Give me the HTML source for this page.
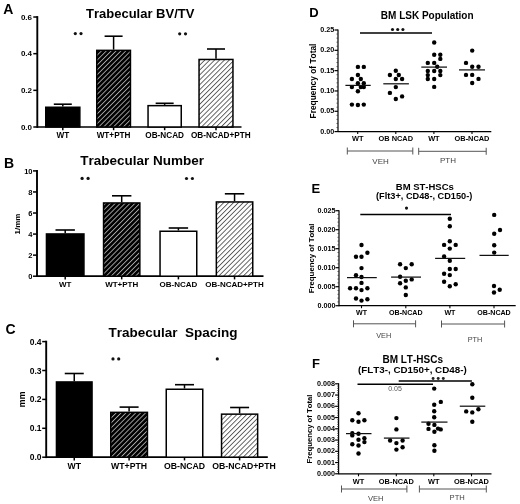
<!DOCTYPE html>
<html><head><meta charset="utf-8"><title>Figure</title>
<style>
html,body{margin:0;padding:0;background:#fff;}
svg{display:block;filter:blur(0.3px);font-family:"Liberation Sans", sans-serif;font-kerning:none;}
</style></head>
<body>
<svg width="520" height="504" viewBox="0 0 520 504">
<defs>
<pattern id="hD" patternUnits="userSpaceOnUse" width="3.46" height="3.46" patternTransform="rotate(45)">
<rect width="3.46" height="3.46" fill="#000"/><rect x="0" y="0" width="0.9" height="3.46" fill="#aaa"/>
</pattern>
<pattern id="hL" patternUnits="userSpaceOnUse" width="3.46" height="3.46" patternTransform="rotate(45)">
<rect width="3.46" height="3.46" fill="#fff"/><rect x="0" y="0" width="0.9" height="3.46" fill="#555"/>
</pattern>
</defs>
<rect width="520" height="504" fill="#fff"/>
<text x="3.3" y="14.2" font-size="14" text-anchor="start" font-weight="bold" fill="#000">A</text>
<text x="140.2" y="18.2" font-size="13" text-anchor="middle" font-weight="bold" fill="#000">Trabecular BV/TV</text>
<line x1="37.3" y1="16.1" x2="37.3" y2="127.9" stroke="#000" stroke-width="1.9"/>
<line x1="37.3" y1="127" x2="241.5" y2="127" stroke="#000" stroke-width="1.7"/>
<line x1="33.3" y1="17.019999999999996" x2="37.3" y2="17.019999999999996" stroke="#000" stroke-width="1.5"/>
<text x="32" y="19.699999999999996" font-size="8" text-anchor="end" font-weight="bold" fill="#000">0.6</text>
<line x1="33.3" y1="53.67999999999999" x2="37.3" y2="53.67999999999999" stroke="#000" stroke-width="1.5"/>
<text x="32" y="56.35999999999999" font-size="8" text-anchor="end" font-weight="bold" fill="#000">0.4</text>
<line x1="33.3" y1="90.34" x2="37.3" y2="90.34" stroke="#000" stroke-width="1.5"/>
<text x="32" y="93.02" font-size="8" text-anchor="end" font-weight="bold" fill="#000">0.2</text>
<line x1="33.3" y1="127.0" x2="37.3" y2="127.0" stroke="#000" stroke-width="1.5"/>
<text x="32" y="129.68" font-size="8" text-anchor="end" font-weight="bold" fill="#000">0.0</text>
<line x1="62.8" y1="104.2" x2="62.8" y2="106.5" stroke="#000" stroke-width="1.5"/>
<line x1="53.8" y1="104.2" x2="71.8" y2="104.2" stroke="#000" stroke-width="1.6"/>
<rect x="45.75" y="107.25" width="34.099999999999994" height="19.75" fill="#000" stroke="#000" stroke-width="1.5"/>
<line x1="62.8" y1="127" x2="62.8" y2="130.2" stroke="#000" stroke-width="1.5"/>
<text x="62.8" y="138.4" font-size="8.2" text-anchor="middle" font-weight="bold" fill="#000">WT</text>
<line x1="113.6" y1="36.2" x2="113.6" y2="49.6" stroke="#000" stroke-width="1.5"/>
<line x1="104.6" y1="36.2" x2="122.6" y2="36.2" stroke="#000" stroke-width="1.6"/>
<rect x="96.75" y="50.35" width="33.69999999999999" height="76.65" fill="url(#hD)" stroke="#000" stroke-width="1.5"/>
<line x1="113.6" y1="127" x2="113.6" y2="130.2" stroke="#000" stroke-width="1.5"/>
<text x="113.6" y="138.4" font-size="8.2" text-anchor="middle" font-weight="bold" fill="#000">WT+PTH</text>
<line x1="164.65" y1="103.3" x2="164.65" y2="104.9" stroke="#000" stroke-width="1.5"/>
<line x1="155.65" y1="103.3" x2="173.65" y2="103.3" stroke="#000" stroke-width="1.6"/>
<rect x="148.05" y="105.65" width="33.19999999999999" height="21.349999999999994" fill="#fff" stroke="#000" stroke-width="1.5"/>
<line x1="164.65" y1="127" x2="164.65" y2="130.2" stroke="#000" stroke-width="1.5"/>
<text x="164.65" y="138.4" font-size="8.2" text-anchor="middle" font-weight="bold" fill="#000">OB-NCAD</text>
<line x1="216.0" y1="49" x2="216.0" y2="58.7" stroke="#000" stroke-width="1.5"/>
<line x1="207.0" y1="49" x2="225.0" y2="49" stroke="#000" stroke-width="1.6"/>
<rect x="199.05" y="59.45" width="33.89999999999998" height="67.55" fill="url(#hL)" stroke="#000" stroke-width="1.5"/>
<line x1="216.0" y1="127" x2="216.0" y2="130.2" stroke="#000" stroke-width="1.5"/>
<text x="220.8" y="138.4" font-size="8.2" text-anchor="middle" font-weight="bold" fill="#000">OB-NCAD+PTH</text>
<circle cx="75.3" cy="33.6" r="1.6" fill="#111"/>
<circle cx="81" cy="33.6" r="1.6" fill="#111"/>
<circle cx="179.7" cy="33.8" r="1.6" fill="#111"/>
<circle cx="185.5" cy="33.8" r="1.6" fill="#111"/>
<text x="4" y="167.5" font-size="14" text-anchor="start" font-weight="bold" fill="#000">B</text>
<text x="142.2" y="165.2" font-size="13.5" text-anchor="middle" font-weight="bold" fill="#000">Trabecular Number</text>
<line x1="37" y1="170.0" x2="37" y2="277.09999999999997" stroke="#000" stroke-width="1.9"/>
<line x1="37" y1="276.2" x2="263.5" y2="276.2" stroke="#000" stroke-width="1.7"/>
<line x1="33" y1="170.89999999999998" x2="37" y2="170.89999999999998" stroke="#000" stroke-width="1.5"/>
<text x="32.5" y="173.59999999999997" font-size="7.5" text-anchor="end" font-weight="bold" fill="#000">10</text>
<line x1="33" y1="191.95999999999998" x2="37" y2="191.95999999999998" stroke="#000" stroke-width="1.5"/>
<text x="32.5" y="194.65999999999997" font-size="7.5" text-anchor="end" font-weight="bold" fill="#000">8</text>
<line x1="33" y1="213.01999999999998" x2="37" y2="213.01999999999998" stroke="#000" stroke-width="1.5"/>
<text x="32.5" y="215.71999999999997" font-size="7.5" text-anchor="end" font-weight="bold" fill="#000">6</text>
<line x1="33" y1="234.07999999999998" x2="37" y2="234.07999999999998" stroke="#000" stroke-width="1.5"/>
<text x="32.5" y="236.77999999999997" font-size="7.5" text-anchor="end" font-weight="bold" fill="#000">4</text>
<line x1="33" y1="255.14" x2="37" y2="255.14" stroke="#000" stroke-width="1.5"/>
<text x="32.5" y="257.84" font-size="7.5" text-anchor="end" font-weight="bold" fill="#000">2</text>
<line x1="33" y1="276.2" x2="37" y2="276.2" stroke="#000" stroke-width="1.5"/>
<text x="32.5" y="278.9" font-size="7.5" text-anchor="end" font-weight="bold" fill="#000">0</text>
<line x1="65.2" y1="230" x2="65.2" y2="233.2" stroke="#000" stroke-width="1.5"/>
<line x1="55.5" y1="230" x2="74.9" y2="230" stroke="#000" stroke-width="1.6"/>
<rect x="46.45" y="233.95" width="37.5" height="42.25" fill="#000" stroke="#000" stroke-width="1.5"/>
<line x1="65.2" y1="276.2" x2="65.2" y2="279.4" stroke="#000" stroke-width="1.5"/>
<text x="65.2" y="287.3" font-size="8" text-anchor="middle" font-weight="bold" fill="#000">WT</text>
<line x1="121.69999999999999" y1="195.8" x2="121.69999999999999" y2="202.2" stroke="#000" stroke-width="1.5"/>
<line x1="111.99999999999999" y1="195.8" x2="131.39999999999998" y2="195.8" stroke="#000" stroke-width="1.6"/>
<rect x="103.55" y="202.95" width="36.3" height="73.25" fill="url(#hD)" stroke="#000" stroke-width="1.5"/>
<line x1="121.69999999999999" y1="276.2" x2="121.69999999999999" y2="279.4" stroke="#000" stroke-width="1.5"/>
<text x="121.69999999999999" y="287.3" font-size="8" text-anchor="middle" font-weight="bold" fill="#000">WT+PTH</text>
<line x1="178.4" y1="228" x2="178.4" y2="230.5" stroke="#000" stroke-width="1.5"/>
<line x1="168.70000000000002" y1="228" x2="188.1" y2="228" stroke="#000" stroke-width="1.6"/>
<rect x="160.05" y="231.25" width="36.69999999999999" height="44.94999999999999" fill="#fff" stroke="#000" stroke-width="1.5"/>
<line x1="178.4" y1="276.2" x2="178.4" y2="279.4" stroke="#000" stroke-width="1.5"/>
<text x="178.4" y="287.3" font-size="8" text-anchor="middle" font-weight="bold" fill="#000">OB-NCAD</text>
<line x1="234.55" y1="193.8" x2="234.55" y2="201.2" stroke="#000" stroke-width="1.5"/>
<line x1="224.85000000000002" y1="193.8" x2="244.25" y2="193.8" stroke="#000" stroke-width="1.6"/>
<rect x="216.35" y="201.95" width="36.400000000000006" height="74.25" fill="url(#hL)" stroke="#000" stroke-width="1.5"/>
<line x1="234.55" y1="276.2" x2="234.55" y2="279.4" stroke="#000" stroke-width="1.5"/>
<text x="234.55" y="287.3" font-size="8" text-anchor="middle" font-weight="bold" fill="#000">OB-NCAD+PTH</text>
<circle cx="82.1" cy="178.4" r="1.6" fill="#111"/>
<circle cx="88.1" cy="178.4" r="1.6" fill="#111"/>
<circle cx="186.5" cy="178.5" r="1.6" fill="#111"/>
<circle cx="192.4" cy="178.5" r="1.6" fill="#111"/>
<text x="19.6" y="224" font-size="8" text-anchor="middle" font-weight="bold" fill="#000" transform="rotate(-90 19.6 224)">1/mm</text>
<text x="5.5" y="334.2" font-size="14" text-anchor="start" font-weight="bold" fill="#000">C</text>
<text x="173" y="337.3" font-size="13.5" text-anchor="middle" font-weight="bold" fill="#000">Trabecular&#160; Spacing</text>
<line x1="46.2" y1="340.70000000000005" x2="46.2" y2="458.09999999999997" stroke="#000" stroke-width="1.9"/>
<line x1="46.2" y1="457.2" x2="267.8" y2="457.2" stroke="#000" stroke-width="1.7"/>
<line x1="42.2" y1="341.59999999999997" x2="46.2" y2="341.59999999999997" stroke="#000" stroke-width="1.5"/>
<text x="41.5" y="344.65999999999997" font-size="8.5" text-anchor="end" font-weight="bold" fill="#000">0.4</text>
<line x1="42.2" y1="370.5" x2="46.2" y2="370.5" stroke="#000" stroke-width="1.5"/>
<text x="41.5" y="373.56" font-size="8.5" text-anchor="end" font-weight="bold" fill="#000">0.3</text>
<line x1="42.2" y1="399.4" x2="46.2" y2="399.4" stroke="#000" stroke-width="1.5"/>
<text x="41.5" y="402.46" font-size="8.5" text-anchor="end" font-weight="bold" fill="#000">0.2</text>
<line x1="42.2" y1="428.3" x2="46.2" y2="428.3" stroke="#000" stroke-width="1.5"/>
<text x="41.5" y="431.36" font-size="8.5" text-anchor="end" font-weight="bold" fill="#000">0.1</text>
<line x1="42.2" y1="457.2" x2="46.2" y2="457.2" stroke="#000" stroke-width="1.5"/>
<text x="41.5" y="460.26" font-size="8.5" text-anchor="end" font-weight="bold" fill="#000">0.0</text>
<line x1="74.25" y1="373.5" x2="74.25" y2="381.2" stroke="#000" stroke-width="1.5"/>
<line x1="64.75" y1="373.5" x2="83.75" y2="373.5" stroke="#000" stroke-width="1.6"/>
<rect x="56.45" y="381.95" width="35.599999999999994" height="75.25" fill="#000" stroke="#000" stroke-width="1.5"/>
<line x1="74.25" y1="457.2" x2="74.25" y2="460.4" stroke="#000" stroke-width="1.5"/>
<text x="74.25" y="468.8" font-size="8.7" text-anchor="middle" font-weight="bold" fill="#000">WT</text>
<line x1="129.1" y1="407.1" x2="129.1" y2="411.6" stroke="#000" stroke-width="1.5"/>
<line x1="119.6" y1="407.1" x2="138.6" y2="407.1" stroke="#000" stroke-width="1.6"/>
<rect x="110.75" y="412.35" width="36.69999999999999" height="44.849999999999966" fill="url(#hD)" stroke="#000" stroke-width="1.5"/>
<line x1="129.1" y1="457.2" x2="129.1" y2="460.4" stroke="#000" stroke-width="1.5"/>
<text x="129.1" y="468.8" font-size="8.7" text-anchor="middle" font-weight="bold" fill="#000">WT+PTH</text>
<line x1="184.5" y1="384.7" x2="184.5" y2="388.5" stroke="#000" stroke-width="1.5"/>
<line x1="175.0" y1="384.7" x2="194.0" y2="384.7" stroke="#000" stroke-width="1.6"/>
<rect x="166.25" y="389.25" width="36.5" height="67.94999999999999" fill="#fff" stroke="#000" stroke-width="1.5"/>
<line x1="184.5" y1="457.2" x2="184.5" y2="460.4" stroke="#000" stroke-width="1.5"/>
<text x="184.5" y="468.8" font-size="8.7" text-anchor="middle" font-weight="bold" fill="#000">OB-NCAD</text>
<line x1="239.6" y1="407.5" x2="239.6" y2="413.4" stroke="#000" stroke-width="1.5"/>
<line x1="230.1" y1="407.5" x2="249.1" y2="407.5" stroke="#000" stroke-width="1.6"/>
<rect x="221.55" y="414.15" width="36.099999999999966" height="43.05000000000001" fill="url(#hL)" stroke="#000" stroke-width="1.5"/>
<line x1="239.6" y1="457.2" x2="239.6" y2="460.4" stroke="#000" stroke-width="1.5"/>
<text x="244.0" y="468.8" font-size="8.7" text-anchor="middle" font-weight="bold" fill="#000">OB-NCAD+PTH</text>
<circle cx="113" cy="358.9" r="1.6" fill="#111"/>
<circle cx="118.7" cy="358.9" r="1.6" fill="#111"/>
<circle cx="217.3" cy="358.9" r="1.6" fill="#111"/>
<text x="25.2" y="399.3" font-size="8.8" text-anchor="middle" font-weight="bold" fill="#000" transform="rotate(-90 25.2 399.3)">mm</text>
<text x="309.3" y="17.3" font-size="13" text-anchor="start" font-weight="bold" fill="#000">D</text>
<text x="427.2" y="18.5" font-size="10" text-anchor="middle" font-weight="bold" fill="#000">BM LSK Population</text>
<line x1="338" y1="29.5" x2="338" y2="132.1" stroke="#000" stroke-width="1.2"/>
<line x1="338" y1="131.6" x2="491.3" y2="131.6" stroke="#000" stroke-width="1.3"/>
<line x1="336.5" y1="127.536" x2="338" y2="127.536" stroke="#333" stroke-width="0.8"/>
<line x1="336.5" y1="123.472" x2="338" y2="123.472" stroke="#333" stroke-width="0.8"/>
<line x1="336.5" y1="119.408" x2="338" y2="119.408" stroke="#333" stroke-width="0.8"/>
<line x1="336.5" y1="115.344" x2="338" y2="115.344" stroke="#333" stroke-width="0.8"/>
<line x1="336.5" y1="107.216" x2="338" y2="107.216" stroke="#333" stroke-width="0.8"/>
<line x1="336.5" y1="103.15199999999999" x2="338" y2="103.15199999999999" stroke="#333" stroke-width="0.8"/>
<line x1="336.5" y1="99.088" x2="338" y2="99.088" stroke="#333" stroke-width="0.8"/>
<line x1="336.5" y1="95.024" x2="338" y2="95.024" stroke="#333" stroke-width="0.8"/>
<line x1="336.5" y1="86.89599999999999" x2="338" y2="86.89599999999999" stroke="#333" stroke-width="0.8"/>
<line x1="336.5" y1="82.832" x2="338" y2="82.832" stroke="#333" stroke-width="0.8"/>
<line x1="336.5" y1="78.768" x2="338" y2="78.768" stroke="#333" stroke-width="0.8"/>
<line x1="336.5" y1="74.704" x2="338" y2="74.704" stroke="#333" stroke-width="0.8"/>
<line x1="336.5" y1="66.576" x2="338" y2="66.576" stroke="#333" stroke-width="0.8"/>
<line x1="336.5" y1="62.511999999999986" x2="338" y2="62.511999999999986" stroke="#333" stroke-width="0.8"/>
<line x1="336.5" y1="58.44800000000001" x2="338" y2="58.44800000000001" stroke="#333" stroke-width="0.8"/>
<line x1="336.5" y1="54.384" x2="338" y2="54.384" stroke="#333" stroke-width="0.8"/>
<line x1="336.5" y1="46.256" x2="338" y2="46.256" stroke="#333" stroke-width="0.8"/>
<line x1="336.5" y1="42.19199999999999" x2="338" y2="42.19199999999999" stroke="#333" stroke-width="0.8"/>
<line x1="336.5" y1="38.128" x2="338" y2="38.128" stroke="#333" stroke-width="0.8"/>
<line x1="336.5" y1="34.06400000000001" x2="338" y2="34.06400000000001" stroke="#333" stroke-width="0.8"/>
<line x1="334.5" y1="30.0" x2="338" y2="30.0" stroke="#000" stroke-width="1.2"/>
<text x="334.2" y="32.16" font-size="7.2" text-anchor="end" font-weight="bold" fill="#000">0.25</text>
<line x1="334.5" y1="50.31999999999999" x2="338" y2="50.31999999999999" stroke="#000" stroke-width="1.2"/>
<text x="334.2" y="52.47999999999999" font-size="7.2" text-anchor="end" font-weight="bold" fill="#000">0.20</text>
<line x1="334.5" y1="70.64" x2="338" y2="70.64" stroke="#000" stroke-width="1.2"/>
<text x="334.2" y="72.8" font-size="7.2" text-anchor="end" font-weight="bold" fill="#000">0.15</text>
<line x1="334.5" y1="90.96" x2="338" y2="90.96" stroke="#000" stroke-width="1.2"/>
<text x="334.2" y="93.11999999999999" font-size="7.2" text-anchor="end" font-weight="bold" fill="#000">0.10</text>
<line x1="334.5" y1="111.28" x2="338" y2="111.28" stroke="#000" stroke-width="1.2"/>
<text x="334.2" y="113.44" font-size="7.2" text-anchor="end" font-weight="bold" fill="#000">0.05</text>
<line x1="334.5" y1="131.6" x2="338" y2="131.6" stroke="#000" stroke-width="1.2"/>
<text x="334.2" y="133.76" font-size="7.2" text-anchor="end" font-weight="bold" fill="#000">0.00</text>
<line x1="357.7" y1="131.6" x2="357.7" y2="134.1" stroke="#000" stroke-width="1.1"/>
<text x="357.7" y="141.4" font-size="7.4" text-anchor="middle" font-weight="bold" fill="#000">WT</text>
<line x1="395.8" y1="131.6" x2="395.8" y2="134.1" stroke="#000" stroke-width="1.1"/>
<text x="395.8" y="141.4" font-size="7.4" text-anchor="middle" font-weight="bold" fill="#000">OB NCAD</text>
<line x1="433.9" y1="131.6" x2="433.9" y2="134.1" stroke="#000" stroke-width="1.1"/>
<text x="433.9" y="141.4" font-size="7.4" text-anchor="middle" font-weight="bold" fill="#000">WT</text>
<line x1="472" y1="131.6" x2="472" y2="134.1" stroke="#000" stroke-width="1.1"/>
<text x="472" y="141.4" font-size="7.4" text-anchor="middle" font-weight="bold" fill="#000">OB-NCAD</text>
<line x1="347.3" y1="151" x2="412.8" y2="151" stroke="#555" stroke-width="1.0"/>
<line x1="347.3" y1="147.5" x2="347.3" y2="154.5" stroke="#555" stroke-width="1.0"/>
<line x1="412.8" y1="147.5" x2="412.8" y2="154.5" stroke="#555" stroke-width="1.0"/>
<text x="380.6" y="164" font-size="8" text-anchor="middle" font-weight="normal" fill="#444">VEH</text>
<line x1="418.7" y1="151.3" x2="486.2" y2="151.3" stroke="#555" stroke-width="1.0"/>
<line x1="418.7" y1="147.8" x2="418.7" y2="154.8" stroke="#555" stroke-width="1.0"/>
<line x1="486.2" y1="147.8" x2="486.2" y2="154.8" stroke="#555" stroke-width="1.0"/>
<text x="448" y="163.4" font-size="8" text-anchor="middle" font-weight="normal" fill="#444">PTH</text>
<circle cx="357.9" cy="66.9" r="2.2" fill="#000"/>
<circle cx="363.8" cy="66.9" r="2.2" fill="#000"/>
<circle cx="357.9" cy="75" r="2.2" fill="#000"/>
<circle cx="351.9" cy="79" r="2.2" fill="#000"/>
<circle cx="360.8" cy="79" r="2.2" fill="#000"/>
<circle cx="357.9" cy="83.2" r="2.2" fill="#000"/>
<circle cx="363.8" cy="83.2" r="2.2" fill="#000"/>
<circle cx="351.9" cy="87.1" r="2.2" fill="#000"/>
<circle cx="360.8" cy="87.1" r="2.2" fill="#000"/>
<circle cx="363.8" cy="87.1" r="2.2" fill="#000"/>
<circle cx="357.9" cy="91.3" r="2.2" fill="#000"/>
<circle cx="351.9" cy="104.6" r="2.2" fill="#000"/>
<circle cx="357.9" cy="105" r="2.2" fill="#000"/>
<circle cx="363.8" cy="104.6" r="2.2" fill="#000"/>
<circle cx="395.8" cy="70.7" r="2.2" fill="#000"/>
<circle cx="389.9" cy="75" r="2.2" fill="#000"/>
<circle cx="398.8" cy="75" r="2.2" fill="#000"/>
<circle cx="395.8" cy="79" r="2.2" fill="#000"/>
<circle cx="402.1" cy="79" r="2.2" fill="#000"/>
<circle cx="395.8" cy="87.1" r="2.2" fill="#000"/>
<circle cx="389.9" cy="92.9" r="2.2" fill="#000"/>
<circle cx="402.1" cy="96.4" r="2.2" fill="#000"/>
<circle cx="395.8" cy="99" r="2.2" fill="#000"/>
<circle cx="434.2" cy="42.5" r="2.2" fill="#000"/>
<circle cx="434.2" cy="54.7" r="2.2" fill="#000"/>
<circle cx="440.3" cy="54.7" r="2.2" fill="#000"/>
<circle cx="440.3" cy="58.9" r="2.2" fill="#000"/>
<circle cx="427.8" cy="62.9" r="2.2" fill="#000"/>
<circle cx="434.2" cy="62.9" r="2.2" fill="#000"/>
<circle cx="437.2" cy="66.8" r="2.2" fill="#000"/>
<circle cx="427.8" cy="71" r="2.2" fill="#000"/>
<circle cx="434.2" cy="71" r="2.2" fill="#000"/>
<circle cx="440.3" cy="71" r="2.2" fill="#000"/>
<circle cx="427.8" cy="75.1" r="2.2" fill="#000"/>
<circle cx="440.3" cy="75.1" r="2.2" fill="#000"/>
<circle cx="427.8" cy="79" r="2.2" fill="#000"/>
<circle cx="434.2" cy="79" r="2.2" fill="#000"/>
<circle cx="434.2" cy="86.9" r="2.2" fill="#000"/>
<circle cx="472.2" cy="50.6" r="2.2" fill="#000"/>
<circle cx="466" cy="62.9" r="2.2" fill="#000"/>
<circle cx="472.2" cy="66.8" r="2.2" fill="#000"/>
<circle cx="478.5" cy="66.8" r="2.2" fill="#000"/>
<circle cx="466" cy="74.9" r="2.2" fill="#000"/>
<circle cx="472.2" cy="74.9" r="2.2" fill="#000"/>
<circle cx="478.5" cy="78.9" r="2.2" fill="#000"/>
<circle cx="472.2" cy="83" r="2.2" fill="#000"/>
<line x1="345.4" y1="85.4" x2="370.7" y2="85.4" stroke="#111" stroke-width="1.25"/>
<line x1="383.3" y1="83.8" x2="408.9" y2="83.8" stroke="#111" stroke-width="1.25"/>
<line x1="421.3" y1="67.1" x2="447" y2="67.1" stroke="#111" stroke-width="1.25"/>
<line x1="459" y1="69.9" x2="485" y2="69.9" stroke="#111" stroke-width="1.25"/>
<text x="315.6" y="81" font-size="8.4" text-anchor="middle" font-weight="bold" fill="#000" transform="rotate(-90 315.6 81)">Frequency of Total</text>
<line x1="360" y1="33" x2="432" y2="33" stroke="#000" stroke-width="1.6"/>
<circle cx="392.5" cy="29.5" r="1.55" fill="#111"/>
<circle cx="397.7" cy="29.5" r="1.55" fill="#111"/>
<circle cx="402.9" cy="29.5" r="1.55" fill="#111"/>
<text x="311.4" y="193" font-size="13" text-anchor="start" font-weight="bold" fill="#000">E</text>
<text x="424.8" y="189.5" font-size="9.5" text-anchor="middle" font-weight="bold" fill="#000">BM ST-HSCs</text>
<text x="424.2" y="199.2" font-size="9.2" text-anchor="middle" font-weight="bold" fill="#000">(Flt3+, CD48-, CD150-)</text>
<line x1="339" y1="210.3" x2="339" y2="306.2" stroke="#000" stroke-width="1.2"/>
<line x1="339" y1="305.7" x2="515.7" y2="305.7" stroke="#000" stroke-width="1.3"/>
<line x1="337.5" y1="301.9" x2="339" y2="301.9" stroke="#333" stroke-width="0.8"/>
<line x1="337.5" y1="298.09999999999997" x2="339" y2="298.09999999999997" stroke="#333" stroke-width="0.8"/>
<line x1="337.5" y1="294.3" x2="339" y2="294.3" stroke="#333" stroke-width="0.8"/>
<line x1="337.5" y1="290.5" x2="339" y2="290.5" stroke="#333" stroke-width="0.8"/>
<line x1="337.5" y1="282.9" x2="339" y2="282.9" stroke="#333" stroke-width="0.8"/>
<line x1="337.5" y1="279.09999999999997" x2="339" y2="279.09999999999997" stroke="#333" stroke-width="0.8"/>
<line x1="337.5" y1="275.3" x2="339" y2="275.3" stroke="#333" stroke-width="0.8"/>
<line x1="337.5" y1="271.5" x2="339" y2="271.5" stroke="#333" stroke-width="0.8"/>
<line x1="337.5" y1="263.9" x2="339" y2="263.9" stroke="#333" stroke-width="0.8"/>
<line x1="337.5" y1="260.09999999999997" x2="339" y2="260.09999999999997" stroke="#333" stroke-width="0.8"/>
<line x1="337.5" y1="256.29999999999995" x2="339" y2="256.29999999999995" stroke="#333" stroke-width="0.8"/>
<line x1="337.5" y1="252.5" x2="339" y2="252.5" stroke="#333" stroke-width="0.8"/>
<line x1="337.5" y1="244.89999999999998" x2="339" y2="244.89999999999998" stroke="#333" stroke-width="0.8"/>
<line x1="337.5" y1="241.09999999999997" x2="339" y2="241.09999999999997" stroke="#333" stroke-width="0.8"/>
<line x1="337.5" y1="237.29999999999998" x2="339" y2="237.29999999999998" stroke="#333" stroke-width="0.8"/>
<line x1="337.5" y1="233.5" x2="339" y2="233.5" stroke="#333" stroke-width="0.8"/>
<line x1="337.5" y1="225.89999999999998" x2="339" y2="225.89999999999998" stroke="#333" stroke-width="0.8"/>
<line x1="337.5" y1="222.1" x2="339" y2="222.1" stroke="#333" stroke-width="0.8"/>
<line x1="337.5" y1="218.3" x2="339" y2="218.3" stroke="#333" stroke-width="0.8"/>
<line x1="337.5" y1="214.5" x2="339" y2="214.5" stroke="#333" stroke-width="0.8"/>
<line x1="335.5" y1="210.7" x2="339" y2="210.7" stroke="#000" stroke-width="1.2"/>
<text x="335.4" y="212.85999999999999" font-size="7.2" text-anchor="end" font-weight="bold" fill="#000">0.025</text>
<line x1="335.5" y1="229.7" x2="339" y2="229.7" stroke="#000" stroke-width="1.2"/>
<text x="335.4" y="231.85999999999999" font-size="7.2" text-anchor="end" font-weight="bold" fill="#000">0.020</text>
<line x1="335.5" y1="248.7" x2="339" y2="248.7" stroke="#000" stroke-width="1.2"/>
<text x="335.4" y="250.85999999999999" font-size="7.2" text-anchor="end" font-weight="bold" fill="#000">0.015</text>
<line x1="335.5" y1="267.7" x2="339" y2="267.7" stroke="#000" stroke-width="1.2"/>
<text x="335.4" y="269.86" font-size="7.2" text-anchor="end" font-weight="bold" fill="#000">0.010</text>
<line x1="335.5" y1="286.7" x2="339" y2="286.7" stroke="#000" stroke-width="1.2"/>
<text x="335.4" y="288.86" font-size="7.2" text-anchor="end" font-weight="bold" fill="#000">0.005</text>
<line x1="335.5" y1="305.7" x2="339" y2="305.7" stroke="#000" stroke-width="1.2"/>
<text x="335.4" y="307.86" font-size="7.2" text-anchor="end" font-weight="bold" fill="#000">0.000</text>
<line x1="361.5" y1="305.7" x2="361.5" y2="308.2" stroke="#000" stroke-width="1.1"/>
<text x="361.5" y="315.3" font-size="7.1" text-anchor="middle" font-weight="bold" fill="#000">WT</text>
<line x1="405.8" y1="305.7" x2="405.8" y2="308.2" stroke="#000" stroke-width="1.1"/>
<text x="405.8" y="315.3" font-size="7.1" text-anchor="middle" font-weight="bold" fill="#000">OB-NCAD</text>
<line x1="449.9" y1="305.7" x2="449.9" y2="308.2" stroke="#000" stroke-width="1.1"/>
<text x="449.9" y="315.3" font-size="7.1" text-anchor="middle" font-weight="bold" fill="#000">WT</text>
<line x1="494" y1="305.7" x2="494" y2="308.2" stroke="#000" stroke-width="1.1"/>
<text x="494" y="315.3" font-size="7.1" text-anchor="middle" font-weight="bold" fill="#000">OB-NCAD</text>
<line x1="353.5" y1="323.8" x2="415.6" y2="323.8" stroke="#555" stroke-width="1.0"/>
<line x1="353.5" y1="320.3" x2="353.5" y2="327.3" stroke="#555" stroke-width="1.0"/>
<line x1="415.6" y1="320.3" x2="415.6" y2="327.3" stroke="#555" stroke-width="1.0"/>
<text x="383.7" y="337.7" font-size="7.3" text-anchor="middle" font-weight="normal" fill="#444">VEH</text>
<line x1="441.5" y1="324" x2="504.6" y2="324" stroke="#555" stroke-width="1.0"/>
<line x1="441.5" y1="320.5" x2="441.5" y2="327.5" stroke="#555" stroke-width="1.0"/>
<line x1="504.6" y1="320.5" x2="504.6" y2="327.5" stroke="#555" stroke-width="1.0"/>
<text x="475" y="341.9" font-size="7.3" text-anchor="middle" font-weight="normal" fill="#444">PTH</text>
<circle cx="361.5" cy="245" r="2.2" fill="#000"/>
<circle cx="367.4" cy="252.8" r="2.2" fill="#000"/>
<circle cx="356" cy="256.8" r="2.2" fill="#000"/>
<circle cx="361.5" cy="256.8" r="2.2" fill="#000"/>
<circle cx="361.5" cy="268.1" r="2.2" fill="#000"/>
<circle cx="356" cy="275.3" r="2.2" fill="#000"/>
<circle cx="361.5" cy="277" r="2.2" fill="#000"/>
<circle cx="361.5" cy="282.9" r="2.2" fill="#000"/>
<circle cx="350.1" cy="288.2" r="2.2" fill="#000"/>
<circle cx="356" cy="288.2" r="2.2" fill="#000"/>
<circle cx="361.5" cy="290.1" r="2.2" fill="#000"/>
<circle cx="367.4" cy="288.2" r="2.2" fill="#000"/>
<circle cx="356" cy="298.5" r="2.2" fill="#000"/>
<circle cx="361.5" cy="300.6" r="2.2" fill="#000"/>
<circle cx="367.4" cy="299.2" r="2.2" fill="#000"/>
<circle cx="400.1" cy="264.2" r="2.2" fill="#000"/>
<circle cx="411.7" cy="264.2" r="2.2" fill="#000"/>
<circle cx="405.8" cy="268.1" r="2.2" fill="#000"/>
<circle cx="400.1" cy="276.7" r="2.2" fill="#000"/>
<circle cx="405.8" cy="280.8" r="2.2" fill="#000"/>
<circle cx="411.7" cy="279.4" r="2.2" fill="#000"/>
<circle cx="400.1" cy="283.2" r="2.2" fill="#000"/>
<circle cx="405.8" cy="287.4" r="2.2" fill="#000"/>
<circle cx="405.8" cy="295" r="2.2" fill="#000"/>
<circle cx="449.8" cy="218.7" r="2.2" fill="#000"/>
<circle cx="449.8" cy="226.2" r="2.2" fill="#000"/>
<circle cx="449.8" cy="241.3" r="2.2" fill="#000"/>
<circle cx="444.1" cy="244.9" r="2.2" fill="#000"/>
<circle cx="455.7" cy="244.9" r="2.2" fill="#000"/>
<circle cx="449.8" cy="248.6" r="2.2" fill="#000"/>
<circle cx="444.1" cy="256.5" r="2.2" fill="#000"/>
<circle cx="449.8" cy="260.8" r="2.2" fill="#000"/>
<circle cx="449.8" cy="269" r="2.2" fill="#000"/>
<circle cx="455.7" cy="269" r="2.2" fill="#000"/>
<circle cx="444.1" cy="273.8" r="2.2" fill="#000"/>
<circle cx="449.8" cy="275.1" r="2.2" fill="#000"/>
<circle cx="444.1" cy="281.7" r="2.2" fill="#000"/>
<circle cx="449.8" cy="286.2" r="2.2" fill="#000"/>
<circle cx="455.7" cy="284.3" r="2.2" fill="#000"/>
<circle cx="494.2" cy="214.9" r="2.2" fill="#000"/>
<circle cx="500" cy="230" r="2.2" fill="#000"/>
<circle cx="494.2" cy="233.8" r="2.2" fill="#000"/>
<circle cx="494.2" cy="245.2" r="2.2" fill="#000"/>
<circle cx="494.2" cy="252.6" r="2.2" fill="#000"/>
<circle cx="494" cy="286" r="2.2" fill="#000"/>
<circle cx="499.7" cy="289.8" r="2.2" fill="#000"/>
<circle cx="494" cy="292.5" r="2.2" fill="#000"/>
<line x1="347" y1="277.6" x2="376.8" y2="277.6" stroke="#111" stroke-width="1.25"/>
<line x1="391.1" y1="277.1" x2="421" y2="277.1" stroke="#111" stroke-width="1.25"/>
<line x1="435.1" y1="258.4" x2="465.2" y2="258.4" stroke="#111" stroke-width="1.25"/>
<line x1="479.5" y1="255.4" x2="508.7" y2="255.4" stroke="#111" stroke-width="1.25"/>
<text x="314" y="258.4" font-size="7.8" text-anchor="middle" font-weight="bold" fill="#000" transform="rotate(-90 314 258.4)">Frequency of Total</text>
<line x1="360.3" y1="214.5" x2="451" y2="214.5" stroke="#000" stroke-width="1.6"/>
<circle cx="406.5" cy="208.1" r="1.55" fill="#111"/>
<text x="312.1" y="368.1" font-size="13" text-anchor="start" font-weight="bold" fill="#000">F</text>
<text x="412.7" y="363.3" font-size="10" text-anchor="middle" font-weight="bold" fill="#000">BM LT-HSCs</text>
<text x="412.4" y="373.4" font-size="9.8" text-anchor="middle" font-weight="bold" fill="#000">(FLT3-, CD150+, CD48-)</text>
<line x1="338.6" y1="383.3" x2="338.6" y2="474.3" stroke="#000" stroke-width="1.2"/>
<line x1="338.6" y1="473.8" x2="491.5" y2="473.8" stroke="#000" stroke-width="1.3"/>
<line x1="337.1" y1="471.55" x2="338.6" y2="471.55" stroke="#333" stroke-width="0.8"/>
<line x1="337.1" y1="469.3" x2="338.6" y2="469.3" stroke="#333" stroke-width="0.8"/>
<line x1="337.1" y1="467.05" x2="338.6" y2="467.05" stroke="#333" stroke-width="0.8"/>
<line x1="337.1" y1="464.8" x2="338.6" y2="464.8" stroke="#333" stroke-width="0.8"/>
<line x1="337.1" y1="460.3" x2="338.6" y2="460.3" stroke="#333" stroke-width="0.8"/>
<line x1="337.1" y1="458.05" x2="338.6" y2="458.05" stroke="#333" stroke-width="0.8"/>
<line x1="337.1" y1="455.8" x2="338.6" y2="455.8" stroke="#333" stroke-width="0.8"/>
<line x1="337.1" y1="453.55" x2="338.6" y2="453.55" stroke="#333" stroke-width="0.8"/>
<line x1="337.1" y1="449.05" x2="338.6" y2="449.05" stroke="#333" stroke-width="0.8"/>
<line x1="337.1" y1="446.8" x2="338.6" y2="446.8" stroke="#333" stroke-width="0.8"/>
<line x1="337.1" y1="444.55" x2="338.6" y2="444.55" stroke="#333" stroke-width="0.8"/>
<line x1="337.1" y1="442.3" x2="338.6" y2="442.3" stroke="#333" stroke-width="0.8"/>
<line x1="337.1" y1="437.8" x2="338.6" y2="437.8" stroke="#333" stroke-width="0.8"/>
<line x1="337.1" y1="435.55" x2="338.6" y2="435.55" stroke="#333" stroke-width="0.8"/>
<line x1="337.1" y1="433.3" x2="338.6" y2="433.3" stroke="#333" stroke-width="0.8"/>
<line x1="337.1" y1="431.05" x2="338.6" y2="431.05" stroke="#333" stroke-width="0.8"/>
<line x1="337.1" y1="426.55" x2="338.6" y2="426.55" stroke="#333" stroke-width="0.8"/>
<line x1="337.1" y1="424.3" x2="338.6" y2="424.3" stroke="#333" stroke-width="0.8"/>
<line x1="337.1" y1="422.05" x2="338.6" y2="422.05" stroke="#333" stroke-width="0.8"/>
<line x1="337.1" y1="419.8" x2="338.6" y2="419.8" stroke="#333" stroke-width="0.8"/>
<line x1="337.1" y1="415.3" x2="338.6" y2="415.3" stroke="#333" stroke-width="0.8"/>
<line x1="337.1" y1="413.05" x2="338.6" y2="413.05" stroke="#333" stroke-width="0.8"/>
<line x1="337.1" y1="410.8" x2="338.6" y2="410.8" stroke="#333" stroke-width="0.8"/>
<line x1="337.1" y1="408.55" x2="338.6" y2="408.55" stroke="#333" stroke-width="0.8"/>
<line x1="337.1" y1="404.05" x2="338.6" y2="404.05" stroke="#333" stroke-width="0.8"/>
<line x1="337.1" y1="401.8" x2="338.6" y2="401.8" stroke="#333" stroke-width="0.8"/>
<line x1="337.1" y1="399.55" x2="338.6" y2="399.55" stroke="#333" stroke-width="0.8"/>
<line x1="337.1" y1="397.3" x2="338.6" y2="397.3" stroke="#333" stroke-width="0.8"/>
<line x1="337.1" y1="392.8" x2="338.6" y2="392.8" stroke="#333" stroke-width="0.8"/>
<line x1="337.1" y1="390.55" x2="338.6" y2="390.55" stroke="#333" stroke-width="0.8"/>
<line x1="337.1" y1="388.3" x2="338.6" y2="388.3" stroke="#333" stroke-width="0.8"/>
<line x1="337.1" y1="386.05" x2="338.6" y2="386.05" stroke="#333" stroke-width="0.8"/>
<line x1="335.1" y1="383.8" x2="338.6" y2="383.8" stroke="#000" stroke-width="1.2"/>
<text x="335" y="385.96000000000004" font-size="7.2" text-anchor="end" font-weight="bold" fill="#000">0.008</text>
<line x1="335.1" y1="395.05" x2="338.6" y2="395.05" stroke="#000" stroke-width="1.2"/>
<text x="335" y="397.21000000000004" font-size="7.2" text-anchor="end" font-weight="bold" fill="#000">0.007</text>
<line x1="335.1" y1="406.3" x2="338.6" y2="406.3" stroke="#000" stroke-width="1.2"/>
<text x="335" y="408.46000000000004" font-size="7.2" text-anchor="end" font-weight="bold" fill="#000">0.006</text>
<line x1="335.1" y1="417.55" x2="338.6" y2="417.55" stroke="#000" stroke-width="1.2"/>
<text x="335" y="419.71000000000004" font-size="7.2" text-anchor="end" font-weight="bold" fill="#000">0.005</text>
<line x1="335.1" y1="428.8" x2="338.6" y2="428.8" stroke="#000" stroke-width="1.2"/>
<text x="335" y="430.96000000000004" font-size="7.2" text-anchor="end" font-weight="bold" fill="#000">0.004</text>
<line x1="335.1" y1="440.05" x2="338.6" y2="440.05" stroke="#000" stroke-width="1.2"/>
<text x="335" y="442.21000000000004" font-size="7.2" text-anchor="end" font-weight="bold" fill="#000">0.003</text>
<line x1="335.1" y1="451.3" x2="338.6" y2="451.3" stroke="#000" stroke-width="1.2"/>
<text x="335" y="453.46000000000004" font-size="7.2" text-anchor="end" font-weight="bold" fill="#000">0.002</text>
<line x1="335.1" y1="462.55" x2="338.6" y2="462.55" stroke="#000" stroke-width="1.2"/>
<text x="335" y="464.71000000000004" font-size="7.2" text-anchor="end" font-weight="bold" fill="#000">0.001</text>
<line x1="335.1" y1="473.8" x2="338.6" y2="473.8" stroke="#000" stroke-width="1.2"/>
<text x="335" y="475.96000000000004" font-size="7.2" text-anchor="end" font-weight="bold" fill="#000">0.000</text>
<line x1="358.5" y1="473.8" x2="358.5" y2="476.3" stroke="#000" stroke-width="1.1"/>
<text x="358.5" y="483.7" font-size="7.4" text-anchor="middle" font-weight="bold" fill="#000">WT</text>
<line x1="396.3" y1="473.8" x2="396.3" y2="476.3" stroke="#000" stroke-width="1.1"/>
<text x="396.3" y="483.7" font-size="7.4" text-anchor="middle" font-weight="bold" fill="#000">OB-NCAD</text>
<line x1="433.8" y1="473.8" x2="433.8" y2="476.3" stroke="#000" stroke-width="1.1"/>
<text x="433.8" y="483.7" font-size="7.4" text-anchor="middle" font-weight="bold" fill="#000">WT</text>
<line x1="471.5" y1="473.8" x2="471.5" y2="476.3" stroke="#000" stroke-width="1.1"/>
<text x="471.5" y="483.7" font-size="7.4" text-anchor="middle" font-weight="bold" fill="#000">OB-NCAD</text>
<line x1="341.5" y1="489" x2="406.9" y2="489" stroke="#555" stroke-width="1.0"/>
<line x1="341.5" y1="485.5" x2="341.5" y2="492.5" stroke="#555" stroke-width="1.0"/>
<line x1="406.9" y1="485.5" x2="406.9" y2="492.5" stroke="#555" stroke-width="1.0"/>
<text x="375.7" y="501.2" font-size="7.6" text-anchor="middle" font-weight="normal" fill="#444">VEH</text>
<line x1="419.4" y1="489" x2="486.3" y2="489" stroke="#555" stroke-width="1.0"/>
<line x1="419.4" y1="485.5" x2="419.4" y2="492.5" stroke="#555" stroke-width="1.0"/>
<line x1="486.3" y1="485.5" x2="486.3" y2="492.5" stroke="#555" stroke-width="1.0"/>
<text x="457.2" y="499.6" font-size="7.6" text-anchor="middle" font-weight="normal" fill="#444">PTH</text>
<circle cx="358.5" cy="413.3" r="2.2" fill="#000"/>
<circle cx="352.3" cy="420.2" r="2.2" fill="#000"/>
<circle cx="358.5" cy="421.7" r="2.2" fill="#000"/>
<circle cx="364.4" cy="420.2" r="2.2" fill="#000"/>
<circle cx="352.3" cy="433.2" r="2.2" fill="#000"/>
<circle cx="352.3" cy="435.4" r="2.2" fill="#000"/>
<circle cx="358.5" cy="433.8" r="2.2" fill="#000"/>
<circle cx="364.4" cy="438.3" r="2.2" fill="#000"/>
<circle cx="358.5" cy="439.8" r="2.2" fill="#000"/>
<circle cx="364.4" cy="442.1" r="2.2" fill="#000"/>
<circle cx="352.3" cy="444.3" r="2.2" fill="#000"/>
<circle cx="358.5" cy="445.5" r="2.2" fill="#000"/>
<circle cx="358.5" cy="453.5" r="2.2" fill="#000"/>
<circle cx="396.4" cy="418.1" r="2.2" fill="#000"/>
<circle cx="396.4" cy="429.4" r="2.2" fill="#000"/>
<circle cx="390.1" cy="440.5" r="2.2" fill="#000"/>
<circle cx="402.6" cy="440.5" r="2.2" fill="#000"/>
<circle cx="396.4" cy="443.1" r="2.2" fill="#000"/>
<circle cx="402.6" cy="447.3" r="2.2" fill="#000"/>
<circle cx="396.4" cy="449.6" r="2.2" fill="#000"/>
<circle cx="434.2" cy="388.6" r="2.2" fill="#000"/>
<circle cx="440.8" cy="401.9" r="2.2" fill="#000"/>
<circle cx="434.2" cy="404.7" r="2.2" fill="#000"/>
<circle cx="434.2" cy="411.2" r="2.2" fill="#000"/>
<circle cx="434.2" cy="417.2" r="2.2" fill="#000"/>
<circle cx="428.5" cy="423.7" r="2.2" fill="#000"/>
<circle cx="434.4" cy="424.9" r="2.2" fill="#000"/>
<circle cx="428.5" cy="428.9" r="2.2" fill="#000"/>
<circle cx="438" cy="428.6" r="2.2" fill="#000"/>
<circle cx="440.7" cy="429.4" r="2.2" fill="#000"/>
<circle cx="434.4" cy="431.7" r="2.2" fill="#000"/>
<circle cx="434.4" cy="445.2" r="2.2" fill="#000"/>
<circle cx="434.4" cy="450.8" r="2.2" fill="#000"/>
<circle cx="472.3" cy="384.2" r="2.2" fill="#000"/>
<circle cx="472.3" cy="397.7" r="2.2" fill="#000"/>
<circle cx="466.2" cy="411.4" r="2.2" fill="#000"/>
<circle cx="472.3" cy="412.4" r="2.2" fill="#000"/>
<circle cx="478.4" cy="409.3" r="2.2" fill="#000"/>
<circle cx="472.3" cy="421.8" r="2.2" fill="#000"/>
<line x1="346" y1="433.6" x2="371.5" y2="433.6" stroke="#111" stroke-width="1.25"/>
<line x1="383.9" y1="438.1" x2="409.5" y2="438.1" stroke="#111" stroke-width="1.25"/>
<line x1="421.3" y1="422.1" x2="447.5" y2="422.1" stroke="#111" stroke-width="1.25"/>
<line x1="459.8" y1="406.2" x2="485.3" y2="406.2" stroke="#111" stroke-width="1.25"/>
<text x="312" y="429" font-size="7.7" text-anchor="middle" font-weight="bold" fill="#000" transform="rotate(-90 312 429)">Frequency of Total</text>
<line x1="357.5" y1="384.2" x2="433" y2="384.2" stroke="#000" stroke-width="1.5"/>
<line x1="398.7" y1="381" x2="471.9" y2="381" stroke="#000" stroke-width="1.5"/>
<text x="395" y="390.5" font-size="7" text-anchor="middle" font-weight="normal" fill="#555">0.05</text>
<circle cx="433.1" cy="378.5" r="1.45" fill="#222"/>
<circle cx="438.2" cy="378.5" r="1.45" fill="#222"/>
<circle cx="443.3" cy="378.5" r="1.45" fill="#222"/>
</svg>
</body></html>
